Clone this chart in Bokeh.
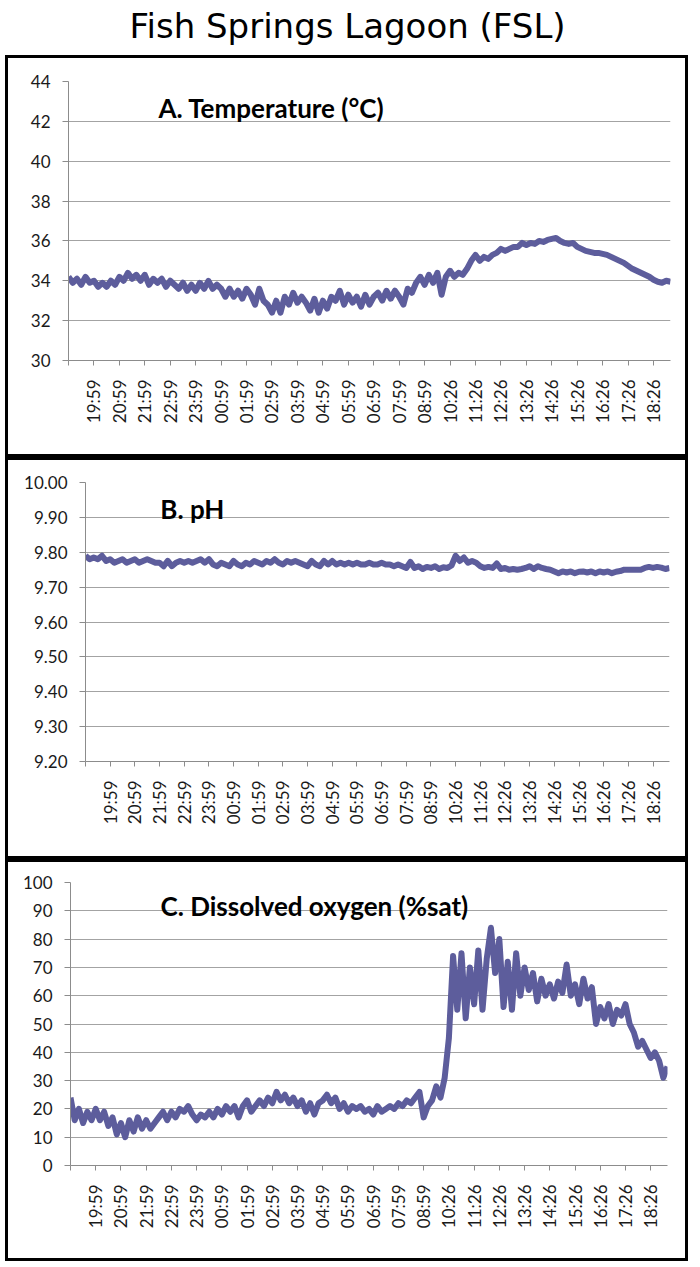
import math
from bokeh.plotting import figure
from bokeh.layouts import column
from bokeh.models import FixedTicker, Range1d, NumeralTickFormatter
from bokeh.core.properties import value
from bokeh.embed import file_html
from bokeh.resources import INLINE

main_title = "Fish Springs Lagoon (FSL)"
title_temp = "A. Temperature (°C)"
title_ph = "B. pH"
title_do = "C. Dissolved oxygen  (%sat)"

# category-axis tick positions (sample minutes) and their labels
tick_minutes = [0, 60, 120, 180, 240, 300, 360, 420, 480, 540, 600, 660, 720,
                780, 840, 900, 960, 1020, 1080, 1140, 1200, 1260, 1320, 1380]
tick_labels = ["", "19:59", "20:59", "21:59", "22:59", "23:59", "00:59", "01:59",
               "02:59", "03:59", "04:59", "05:59", "06:59", "07:59", "08:59",
               "10:26", "11:26", "12:26", "13:26", "14:26", "15:26", "16:26",
               "17:26", "18:26"]

sample_step_min = 10

temperature = [
    34.2, 33.9, 34.1, 33.8, 34.2, 33.9, 34.0, 33.7,
    33.9, 33.7, 34.0, 33.8,
    34.2, 34.0, 34.4, 34.1, 34.3, 34.0, 34.3, 33.8,
    34.1, 33.9, 34.1, 33.7, 34.0,
    33.8, 33.6, 33.9, 33.5, 33.8, 33.5, 33.9, 33.6, 34.0, 33.6, 33.8,
    33.6, 33.2, 33.6, 33.2, 33.5, 33.1, 33.6,
    33.3, 32.8, 33.6, 33.0,
    32.8, 32.4, 33.0, 32.4,
    33.2, 32.8, 33.4, 32.9, 33.2,
    32.9, 32.5, 33.1, 32.4, 33.0, 32.6, 33.2,
    33.0, 33.5, 32.8, 33.3, 32.9,
    33.2, 32.7, 33.3, 32.8, 33.2,
    33.4, 33.0, 33.5, 33.1, 33.5, 33.2, 32.8,
    33.6, 33.4,
    33.9, 34.2, 33.8, 34.3, 33.9, 34.4, 33.3,
    34.2, 34.5, 34.2, 34.4, 34.3, 34.6,
    35.0, 35.3, 35.0, 35.2, 35.1, 35.3,
    35.4, 35.6, 35.5, 35.6, 35.7,
    35.7, 35.9, 35.8, 35.9, 35.85, 36.0,
    35.95, 36.05, 36.1, 36.15,
    36.0, 35.9, 35.85, 35.9, 35.7, 35.6,
    35.5, 35.45, 35.4, 35.4, 35.35, 35.3, 35.2, 35.1,
    35.0, 34.9, 34.75, 34.6, 34.5, 34.4, 34.3, 34.2,
    34.05, 33.95, 33.9, 34.0, 33.95,
]

ph = [
    9.79, 9.78, 9.785, 9.78,
    9.79, 9.775,
    9.78, 9.77, 9.775, 9.78, 9.77, 9.775, 9.78, 9.77, 9.775, 9.78, 9.775, 9.77,
    9.77, 9.76, 9.775, 9.76, 9.77,
    9.775, 9.77, 9.775, 9.77, 9.775,
    9.78, 9.77, 9.78,
    9.765, 9.76, 9.77, 9.765, 9.76, 9.775, 9.765, 9.76, 9.77, 9.765,
    9.775, 9.77, 9.765, 9.775, 9.77, 9.78, 9.77, 9.765, 9.775,
    9.77, 9.775, 9.77,
    9.765, 9.76, 9.775, 9.765, 9.76, 9.775, 9.765, 9.775, 9.765,
    9.77, 9.765, 9.77, 9.765, 9.77, 9.765, 9.765, 9.77, 9.765, 9.765, 9.77, 9.765, 9.765,
    9.76, 9.765, 9.76, 9.755,
    9.772,
    9.755, 9.76, 9.752, 9.758, 9.755, 9.76, 9.752, 9.757, 9.755, 9.762,
    9.79,
    9.775, 9.785, 9.77, 9.775, 9.77,
    9.76, 9.755, 9.758, 9.755,
    9.768,
    9.752, 9.755, 9.75, 9.752, 9.75, 9.752,
    9.755, 9.76, 9.752, 9.76, 9.755,
    9.752, 9.75,
    9.745, 9.74, 9.745, 9.742, 9.745, 9.74, 9.744, 9.745, 9.742, 9.745, 9.74,
    9.745, 9.742, 9.745, 9.74, 9.744, 9.746,
    9.75, 9.75, 9.75, 9.75, 9.75,
    9.755, 9.758, 9.755, 9.758, 9.756, 9.752, 9.755,
]

dissolved_oxygen = [
    24,
    16, 20, 15, 19,
    16, 20, 16, 19,
    14, 17,
    11, 15, 10,
    16, 12, 17, 13, 16,
    13, 15,
    17, 19, 16,
    19, 17, 20,
    19, 21, 18,
    16, 18, 17,
    19, 17, 20, 18,
    21, 19, 21, 17,
    21, 23, 19, 21,
    23, 21, 24,
    22, 26, 23, 25,
    22, 24, 21, 23,
    19, 22, 18, 22,
    23, 25, 22, 24,
    20, 22, 19, 21, 20,
    21, 19, 20, 18, 21, 19, 20,
    21, 20, 22, 21,
    23, 22, 24,
    26,
    17, 21,
    23, 28, 24,
    31,
    45,
    74, 55, 75, 52, 70,
    57, 76, 55, 73,
    84, 68, 80,
    56, 72, 55, 75,
    60, 70, 62, 68,
    58, 66, 60, 64, 59, 65,
    61, 71, 60,
    64, 57, 66, 59, 63,
    50, 56, 52, 57, 50, 55, 53,
    57, 50,
    47, 42, 44,
    41, 38, 40, 37,
    31, 35,
]

temp_ticks = [30, 32, 34, 36, 38, 40, 42, 44]
ph_ticks = [9.2, 9.3, 9.4, 9.5, 9.6, 9.7, 9.8, 9.9, 10.0]
do_ticks = [0, 10, 20, 30, 40, 50, 60, 70, 80, 90, 100]

LINE = "#5d5d9c"
GRID = "#a3a3a3"
AXIS = "#8c8c8c"
FONT = "Lato"
PANEL_STYLE = {"border": "3px solid black", "box-sizing": "content-box",
               "margin-left": "5px"}


def make_panel(vals, yticks, fmt, borders, title, tx, ty):
    xs = [i * sample_step_min for i in range(len(vals))]
    p = figure(width=677, height=396, output_backend="svg", toolbar_location=None,
               title=None,
               x_range=Range1d(0, 1420), y_range=Range1d(yticks[0], yticks[-1]),
               min_border_left=borders[0], min_border_right=borders[1],
               min_border_top=borders[2], min_border_bottom=borders[3])
    p.frame_align = False
    p.styles = PANEL_STYLE
    p.outline_line_color = None
    p.background_fill_color = "white"
    p.border_fill_color = "white"
    p.line(xs, vals, line_color=LINE, line_width=6, line_join="round")

    p.xgrid.visible = False
    p.ygrid.ticker = FixedTicker(ticks=yticks)
    p.ygrid.grid_line_color = GRID
    p.ygrid.grid_line_width = 1

    ya = p.yaxis[0]
    ya.ticker = FixedTicker(ticks=yticks, minor_ticks=[])
    ya.formatter = NumeralTickFormatter(format=fmt)
    ya.axis_line_color = AXIS
    ya.major_tick_line_color = AXIS
    ya.major_tick_out = 6
    ya.major_tick_in = 0
    ya.minor_tick_line_color = None
    ya.major_label_standoff = 12
    ya.major_label_text_font = FONT
    ya.major_label_text_font_size = "17px"
    ya.major_label_text_color = "#1a1a1a"

    xa = p.xaxis[0]
    xa.ticker = FixedTicker(ticks=tick_minutes, minor_ticks=[])
    xa.major_label_overrides = {m: lab for m, lab in zip(tick_minutes, tick_labels)}
    xa.major_label_orientation = math.pi / 2
    xa.axis_line_color = AXIS
    xa.major_tick_line_color = AXIS
    xa.major_tick_out = 5
    xa.major_tick_in = 0
    xa.minor_tick_line_color = None
    xa.major_label_standoff = 14
    xa.major_label_text_font = FONT
    xa.major_label_text_font_size = "17px"
    xa.major_label_text_color = "#1a1a1a"

    p.text(x=[tx], y=[ty], text=[title], text_font=value(FONT), text_font_style="bold",
           text_font_size="26px", text_color="black", text_baseline="alphabetic",
           text_align="left")
    return p


head = figure(width=688, height=55, x_range=Range1d(0, 688), y_range=Range1d(0, 55),
              output_backend="svg", toolbar_location=None, min_border=0, title=None,
              x_axis_location=None, y_axis_location=None)
head.frame_align = False
head.grid.visible = False
head.outline_line_color = None
head.text(x=[347], y=[30], text=[main_title], text_align="center",
          text_baseline="alphabetic", text_font=value("DejaVu Sans"),
          text_font_size="34px", text_color="black")

pa = make_panel(temperature, temp_ticks, "0", (60, 21, 23, 100), title_temp, 212, 42.65)
pb = make_panel(ph, ph_ticks, "0.00", (77, 22, 22, 101), title_ph, 182, 9.923)
pc = make_panel(dissolved_oxygen, do_ticks, "0", (62, 24, 20, 99), title_do, 214, 91.6)

layout = column(head, pa, pb, pc, spacing=0)
open("out.html", "w").write(file_html(layout, INLINE))
